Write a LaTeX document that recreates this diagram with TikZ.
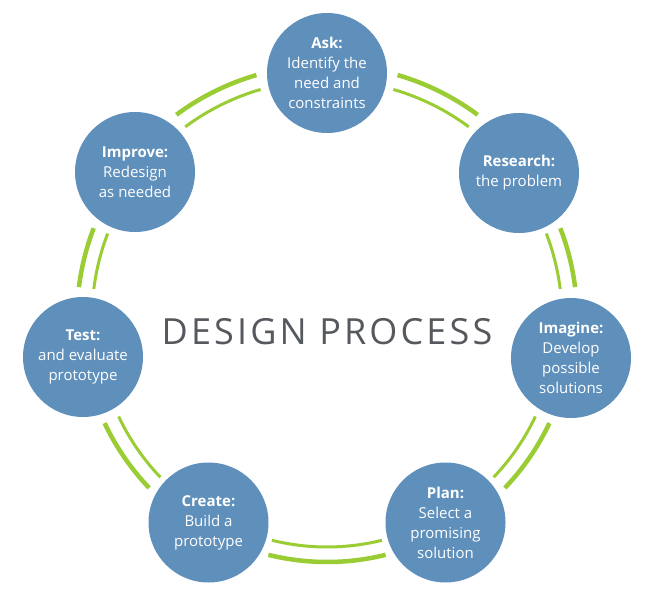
\documentclass[tikz,border=0pt]{standalone}
\usepackage{fontspec}
\setmainfont{Open Sans}
\definecolor{stageblue}{RGB}{95,143,187}
\definecolor{ringgreen}{RGB}{154,204,51}
\definecolor{titlegray}{RGB}{85,89,94}
\newcommand\ringpair[4]{%
  \draw[outerarc] ([shift={(O)}]#1:#3) arc[start angle=#1,end angle=#2,radius=#3];
  \draw[innerarc] ([shift={(O)}]#1:#4) arc[start angle=#1,end angle=#2,radius=#4];}
\begin{document}
\begin{tikzpicture}[x=1pt,y=1pt,
  stagecircle/.style={circle,fill=stageblue,minimum size=120pt,inner sep=0pt,text=white,align=center,font=\fontsize{15}{20}\selectfont},
  outerarc/.style={draw=ringgreen,line width=4.5pt},
  innerarc/.style={draw=ringgreen,line width=3pt}]
\useasboundingbox (0,0) rectangle (653,600);
\coordinate (O) at (327,282);
% green double arcs between stages
\ringpair{53.45}{73.8}{253}{238}
\ringpair{7.1}{21.05}{250}{235}
\ringpair{-43.7}{-25.3}{246}{230.5}
\ringpair{-103.9}{-76.1}{244}{229}
\ringpair{-154.7}{-136.3}{246}{230.5}
\ringpair{158.95}{172.9}{250}{235}
\ringpair{106.2}{126.55}{253}{238}
% stages
\node[stagecircle] (ask) at (327,527) {\textbf{Ask:}\\Identify the\\need and\\constraints};
\node[stagecircle] (research) at (519,427) {\textbf{Research:}\\the problem};
\node[stagecircle] (imagine) at (571,242) {\textbf{Imagine:}\\Develop\\possible\\solutions};
\node[stagecircle] (plan) at (445.5,77.5) {\textbf{Plan:}\\Select a\\promising\\solution};
\node[stagecircle] (create) at (208.5,77.5) {\textbf{Create:}\\Build a\\prototype};
\node[stagecircle] (test) at (83,243) {\textbf{Test:}\\and evaluate\\prototype};
\node[stagecircle] (improve) at (135,428) {\textbf{Improve:}\\Redesign\\as needed};
% title
\node[anchor=base,text=titlegray,font=\fontsize{36}{40}\selectfont\addfontfeature{LetterSpace=8.7},inner sep=0pt] (title) at (327,255) {DESIGN PROCESS};
\end{tikzpicture}
\end{document}
